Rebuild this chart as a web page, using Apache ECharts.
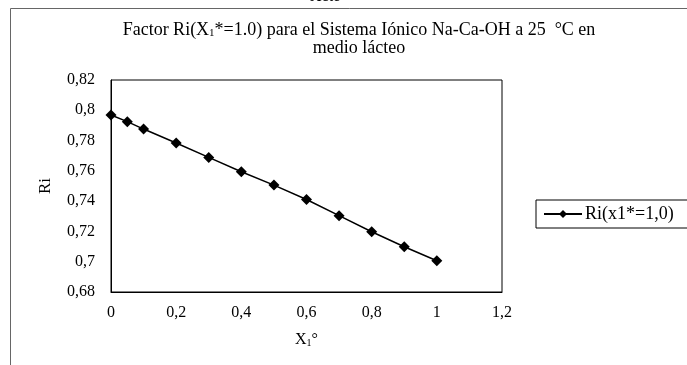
<!DOCTYPE html>
<html>
<head>
<meta charset="utf-8">
<script src="https://cdn.jsdelivr.net/npm/echarts@6/dist/echarts.min.js"></script>
<style>
  html, body { margin: 0; padding: 0; background: #fff; }
  #chart { width: 687px; height: 365px; }
</style>
</head>
<body>
<div id="chart"></div>
<script>
// datos
const xValues = [0, 0.05, 0.1, 0.2, 0.3, 0.4, 0.5, 0.6, 0.7, 0.8, 0.9, 1.0];
const riValues = [0.7969, 0.7925, 0.7876, 0.7784, 0.7689, 0.7594, 0.7506, 0.7411, 0.7304, 0.7198, 0.7099, 0.7006];
const seriesName = 'Ri(x1*=1,0)';

const serif = '"Liberation Serif", "DejaVu Serif", serif';
const comma = v => String(+v.toFixed(2)).replace('.', ',');

const chart = echarts.init(document.getElementById('chart'));
chart.setOption({
    animation: false,
    backgroundColor: '#fff',
    textStyle: { fontFamily: serif, color: '#000' },
    title: {
        text: 'Factor Ri({a|X}{s|1}*=1.0) para el Sistema Iónico Na-Ca-OH a 25  °C en\n{a|medio lácteo}',
        left: 354,
        top: 16,
        textAlign: 'center',
        textStyle: {
            fontFamily: serif, fontSize: 18, fontWeight: 'normal', color: '#000', lineHeight: 18,
            rich: {
                a: { fontFamily: serif, fontSize: 18, color: '#000', lineHeight: 18 },
                s: { fontFamily: serif, fontSize: 11, color: '#000', verticalAlign: 'bottom', lineHeight: 18, padding: [4, 0, 0, 0] }
            }
        }
    },
    graphic: [
        { type: 'rect', shape: { x: 10.5, y: 8.5, width: 700, height: 400 }, style: { fill: 'none', stroke: '#666', lineWidth: 1 }, silent: true },
        { type: 'text', left: 310, top: -11, style: { text: 'Xcte', font: '16px ' + serif, fill: '#000' } }
    ],
    legend: {
        left: 536,
        top: 200,
        orient: 'vertical',
        borderColor: '#000',
        borderWidth: 1,
        borderRadius: 0,
        padding: [5, 14, 5, 7],
        itemWidth: 38,
        itemHeight: 10,
        itemGap: 0,
        textStyle: { fontFamily: serif, fontSize: 18, color: '#000', padding: [0, 0, 0, -2] },
        data: [seriesName]
    },
    grid: {
        left: 111, right: 185, top: 80, bottom: 73,
        show: true, borderColor: '#000', borderWidth: 1, backgroundColor: '#fff'
    },
    xAxis: {
        type: 'value',
        min: 0, max: 1.2, interval: 0.2,
        name: '{a|X}{s|1}{a|°}',
        nameLocation: 'middle',
        nameGap: 40,
        nameTextStyle: {
            rich: {
                a: { fontFamily: serif, fontSize: 16, color: '#000' },
                s: { fontFamily: serif, fontSize: 10, color: '#000', verticalAlign: 'bottom', padding: [4, 0, 0, 0] }
            }
        },
        axisLine: { show: true, lineStyle: { color: '#000', width: 1 } },
        axisTick: { show: false },
        splitLine: { show: false },
        axisLabel: { formatter: comma, fontFamily: serif, fontSize: 16, color: '#000', margin: 13 }
    },
    yAxis: {
        type: 'value',
        min: 0.68, max: 0.82, interval: 0.02,
        name: 'Ri',
        nameLocation: 'middle',
        nameGap: 57,
        nameTextStyle: { fontFamily: serif, fontSize: 17, color: '#000' },
        axisLine: { show: true, lineStyle: { color: '#000', width: 1 } },
        axisTick: { show: false },
        splitLine: { show: false },
        axisLabel: { formatter: comma, fontFamily: serif, fontSize: 16, color: '#000', margin: 16 }
    },
    series: [{
        name: seriesName,
        type: 'line',
        data: xValues.map((x, i) => [x, riValues[i]]),
        symbol: 'diamond',
        symbolSize: 11,
        showAllSymbol: true,
        itemStyle: { color: '#000' },
        lineStyle: { color: '#000', width: 1.5 }
    }]
});
</script>
</body>
</html>
